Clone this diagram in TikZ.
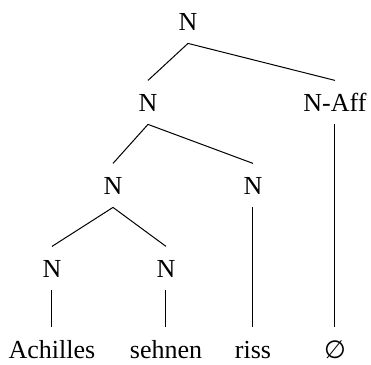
\documentclass[tikz,border=0pt]{standalone}
\usepackage{fontspec}
\setmainfont{Liberation Serif}
\newfontfamily\symfont{DejaVu Sans}
\usepackage{tikz}

\tikzset{
  cat/.style={anchor=base, font=\fontsize{13}{15.6}\selectfont, inner xsep=0pt, inner ysep=6.5pt, text height=8.6pt, text depth=0pt},
  branch/.style={line width=0.5pt}
}

\begin{document}
\begin{tikzpicture}[x=0.5pt,y=-0.5pt]
\useasboundingbox (0,0) rectangle (371,365);
\node[cat] (root) at (188,30) {N};
\node[cat] (nl) at (148,111) {N};
\node[cat] (aff) at (335,111) {N-Aff};
\node[cat] (nll) at (113,194) {N};
\node[cat] (nlr) at (253,194) {N};
\node[cat] (n1) at (52,277) {N};
\node[cat] (n2) at (166,277) {N};
\node[cat] (w1) at (52,358) {Achilles};
\node[cat] (w2) at (166,358) {sehnen};
\node[cat] (w3) at (253,358) {riss};
\node[cat] (w4) at (335,358) {\symfont\fontsize{12.5}{15}\selectfont ∅};

\draw[branch] (root.south) -- (nl.north);
\draw[branch] (root.south) -- (aff.north);
\draw[branch] (nl.south) -- (nll.north);
\draw[branch] (nl.south) -- (nlr.north);
\draw[branch] (nll.south) -- (n1.north);
\draw[branch] (nll.south) -- (n2.north);
\draw[branch] (n1.south) -- (w1.north);
\draw[branch] (n2.south) -- (w2.north);
\draw[branch] (nlr.south) -- (w3.north);
\draw[branch] (aff.south) -- (w4.north);
\end{tikzpicture}
\end{document}
